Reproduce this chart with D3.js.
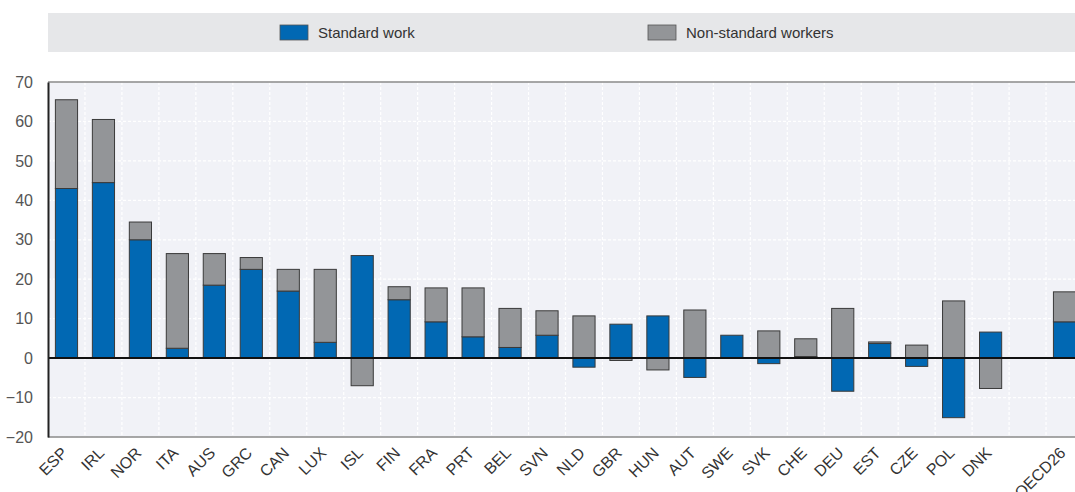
<!DOCTYPE html>
<html>
<head>
<meta charset="utf-8">
<script src="https://cdn.jsdelivr.net/npm/d3@7"></script>
<style>
  body { margin: 0; background: #fff; }
  text { font-family: "Liberation Sans", Arial, sans-serif; }
</style>
</head>
<body>
<main></main>
<script>
// Categories ("" is the gap before the OECD average)
const countries = ['ESP','IRL','NOR','ITA','AUS','GRC','CAN','LUX','ISL','FIN','FRA','PRT','BEL','SVN',
    'NLD','GBR','HUN','AUT','SWE','SVK','CHE','DEU','EST','CZE','POL','DNK','','OECD26'];
const standardWork = [43, 44.5, 30, 2.5, 18.5, 22.5, 17, 4, 26, 14.8, 9.2, 5.4, 2.7, 5.8,
    -2.3, 8.6, 10.7, -4.9, 5.8, -1.4, 0.4, -8.4, 3.7, -2.1, -15.1, 6.6, 0, 9.2];
const nonStandard = [22.5, 16, 4.5, 24, 8, 3, 5.5, 18.5, -7, 3.3, 8.6, 12.4, 9.9, 6.2,
    10.7, -0.6, -3, 12.2, 0, 6.9, 4.5, 12.6, 0.4, 3.3, 14.5, -7.7, 0, 7.6];
const yTicks = [-20, -10, 0, 10, 20, 30, 40, 50, 60, 70];
const seriesNames = ['Standard work', 'Non-standard workers'];

const width = 1075, height = 492;
const margin = {left: 48, top: 82, bottom: 437};
const colors = ['#0168b3', '#939598'];

const svg = d3.select('main').append('svg')
    .attr('width', width)
    .attr('height', height);

const rows = countries.map((c, i) => ({country: c, std: standardWork[i], non: nonStandard[i]}));

// plot runs a little past the right edge, the last bar is cut like in the original
const x = d3.scaleBand()
    .domain(countries)
    .range([margin.left, 1083])
    .paddingInner(0.4)
    .paddingOuter(0.2);

const y = d3.scaleLinear()
    .domain([-20, 70])
    .range([margin.bottom, margin.top]);

// Legend band
svg.append('rect')
    .attr('x', 48).attr('y', 13)
    .attr('width', width - 48).attr('height', 39)
    .attr('fill', '#e6e7e9');

const legendX = [280, 648];
seriesNames.forEach((name, i) => {
    svg.append('rect')
        .attr('x', legendX[i]).attr('y', 25)
        .attr('width', 28).attr('height', 15)
        .attr('fill', colors[i])
        .attr('stroke', '#555').attr('stroke-width', 0.8);
    svg.append('text')
        .attr('x', legendX[i] + 38).attr('y', 38)
        .attr('font-size', 15)
        .attr('fill', '#333')
        .text(name);
});

// Plot background
svg.append('rect')
    .attr('x', margin.left).attr('y', margin.top)
    .attr('width', width - margin.left).attr('height', margin.bottom - margin.top)
    .attr('fill', '#f1f2f7');

// Gridlines
svg.append('g')
    .selectAll('line')
    .data(yTicks)
    .enter().append('line')
    .attr('x1', margin.left).attr('x2', width)
    .attr('y1', d => y(d)).attr('y2', d => y(d))
    .attr('stroke', '#fff')
    .attr('stroke-width', 1.2)
    .attr('stroke-dasharray', '3,2');

svg.append('g')
    .selectAll('line')
    .data(countries.slice(1))
    .enter().append('line')
    .attr('x1', d => x(d) - x.step() * x.paddingInner() / 2)
    .attr('x2', d => x(d) - x.step() * x.paddingInner() / 2)
    .attr('y1', margin.top).attr('y2', margin.bottom)
    .attr('stroke', '#fff')
    .attr('stroke-width', 1.2)
    .attr('stroke-dasharray', '3,2');

// Top and bottom frame
svg.append('line')
    .attr('x1', margin.left).attr('x2', width)
    .attr('y1', margin.top).attr('y2', margin.top)
    .attr('stroke', '#8a8a8a').attr('stroke-width', 1.5);
svg.append('line')
    .attr('x1', margin.left).attr('x2', width)
    .attr('y1', margin.bottom).attr('y2', margin.bottom)
    .attr('stroke', '#8a8a8a').attr('stroke-width', 1.5);

// Stacked bars (positive and negative stacks separately)
const stack = d3.stack()
    .keys(['std', 'non'])
    .offset(d3.stackOffsetDiverging);
const series = stack(rows);

svg.append('g')
    .selectAll('g')
    .data(series)
    .enter().append('g')
    .attr('fill', (d, i) => colors[i])
    .selectAll('rect')
    .data(d => d.filter(p => p.data.country !== '' && p[1] !== p[0]))
    .enter().append('rect')
    .attr('x', d => x(d.data.country))
    .attr('width', x.bandwidth())
    .attr('y', d => y(Math.max(d[0], d[1])))
    .attr('height', d => Math.abs(y(d[0]) - y(d[1])))
    .attr('stroke', '#3a3a3a')
    .attr('stroke-width', 1);

// Zero line
svg.append('line')
    .attr('x1', margin.left).attr('x2', width)
    .attr('y1', y(0)).attr('y2', y(0))
    .attr('stroke', '#111').attr('stroke-width', 2);

// Left axis
const yAxis = svg.append('g')
    .attr('transform', `translate(${margin.left},0)`)
    .call(d3.axisLeft(y).tickValues(yTicks).tickSize(0).tickPadding(15));
yAxis.select('.domain').attr('stroke', '#222').attr('stroke-width', 2);
yAxis.selectAll('text')
    .attr('font-size', 16)
    .attr('fill', '#555')
    .style('font-family', '"Liberation Sans", Arial, sans-serif');

// Bottom labels
const xAxis = svg.append('g')
    .attr('transform', `translate(0,${margin.bottom})`)
    .call(d3.axisBottom(x).tickSize(0).tickPadding(0));
xAxis.select('.domain').remove();
xAxis.selectAll('text')
    .attr('font-size', 16)
    .attr('fill', '#333')
    .style('font-family', '"Liberation Sans", Arial, sans-serif')
    .attr('text-anchor', 'end')
    .attr('x', 0).attr('y', 0)
    .attr('dy', '0.35em')
    .attr('transform', 'translate(-2,13) rotate(-45)');
</script>
</body>
</html>
